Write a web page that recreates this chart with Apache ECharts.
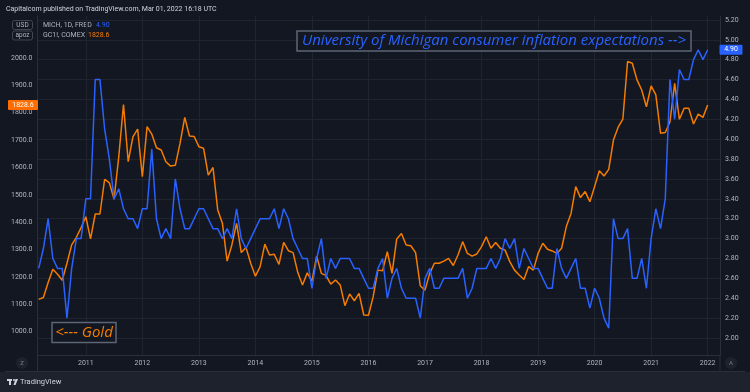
<!DOCTYPE html>
<html><head><meta charset="utf-8">
<script src="https://cdn.jsdelivr.net/npm/echarts@6/dist/echarts.min.js"></script>
<style>html,body{margin:0;padding:0;background:#131722;}#c{width:750px;height:392px;}</style>
</head><body><div id="c"></div>
<script>
// ---- data (monthly, first point = March 2010) ----
const startYear = 2010;
const startMonth = 3;
const yearLabels = ['2011','2012','2013','2014','2015','2016','2017','2018','2019','2020','2021','2022'];
const michTicks = ['2.00','2.20','2.40','2.60','2.80','3.00','3.20','3.40','3.60','3.80','4.00','4.20','4.40','4.60','4.80','5.00','5.20'];
const goldTicks = ['1000.0','1100.0','1200.0','1300.0','1400.0','1500.0','1600.0','1700.0','1800.0','1900.0','2000.0'];
// University of Michigan 1-yr inflation expectations (MICH, FRED), right scale
const michValues = [
  2.7,2.9,3.2,2.8,2.7,2.7,2.2,2.7,3.0,3.0,
  3.4,3.4,4.6,4.6,4.1,3.8,3.4,3.5,3.3,3.2,3.2,3.1,
  3.3,3.3,3.9,3.2,3.0,3.1,3.0,3.6,3.3,3.1,3.1,3.2,
  3.3,3.3,3.2,3.1,3.1,3.0,3.1,3.0,3.3,3.0,2.9,3.0,
  3.1,3.2,3.2,3.2,3.3,3.1,3.3,3.2,3.0,2.9,2.8,2.8,
  2.5,2.8,3.0,2.6,2.8,2.7,2.8,2.8,2.8,2.7,2.7,2.6,
  2.5,2.5,2.7,2.8,2.4,2.6,2.7,2.5,2.4,2.4,2.4,2.2,
  2.6,2.7,2.5,2.5,2.6,2.6,2.6,2.6,2.7,2.4,2.5,2.7,
  2.7,2.7,2.8,2.7,2.8,3.0,2.9,3.0,2.7,2.9,2.8,2.7,
  2.7,2.6,2.5,2.5,2.9,2.7,2.6,2.7,2.8,2.5,2.5,2.3,
  2.5,2.4,2.2,2.1,3.2,3.0,3.0,3.1,2.6,2.6,2.8,2.5,
  3.0,3.3,3.1,3.4,4.6,4.2,4.7,4.6,4.6,4.8,4.9,4.8,
  4.9
];
// Gold continuous futures (GC1!, COMEX), left scale
const goldValues = [
  1118,1125,1180,1228,1210,1188,1250,1317,1345,1380,
  1420,1339,1430,1430,1557,1544,1484,1640,1830,1621,1712,1740,
  1566,1749,1722,1672,1664,1621,1605,1608,1688,1783,1715,1713,
  1676,1670,1572,1600,1445,1396,1258,1317,1396,1289,1308,1250,
  1203,1238,1320,1280,1283,1246,1326,1296,1289,1216,1171,1215,
  1185,1276,1213,1205,1174,1189,1171,1095,1138,1113,1140,1061,
  1060,1128,1225,1223,1292,1213,1339,1359,1317,1314,1289,1167,
  1152,1213,1250,1250,1258,1268,1242,1280,1329,1286,1276,1284,
  1311,1347,1305,1326,1305,1298,1256,1225,1207,1191,1238,1225,
  1286,1323,1301,1295,1286,1305,1384,1432,1530,1490,1512,1475,
  1530,1588,1569,1593,1700,1747,1777,1987,1981,1920,1883,1822,
  1898,1865,1725,1728,1767,1907,1776,1816,1816,1759,1795,1783,
  1828.6
];

// month index measured from January of startYear
const monthIndex = michValues.map((_, i) => (startMonth - 1) + i);
const michData = michValues.map((v, i) => [monthIndex[i], v]);
const goldData = goldValues.map((v, i) => [monthIndex[i], v]);
const yearPos = yearLabels.map(y => (parseInt(y, 10) - startYear) * 12);
const michTickVals = michTicks.map(Number);
const goldTickVals = goldTicks.map(Number);
const michLast = michValues[michValues.length - 1];
const goldLast = goldValues[goldValues.length - 1];

const BLUE = '#2962ff', ORANGE = '#f57c00', TXT = '#b2b5be', GRID = '#20242f', BORDER = '#2a2e39';
const FONT = 'Roboto, "Noto Sans", sans-serif';
const NOTE_FONT = 'italic 15px "Open Sans", sans-serif';

const chart = echarts.init(document.getElementById('c'), null, {renderer: 'canvas'});
chart.setOption({
  backgroundColor: '#131722',
  animation: false,
  grid: {left: 37.5, right: 30, top: 16, bottom: 37, containLabel: false},
  xAxis: {
    type: 'value', min: 1.745, max: 146.62,
    axisLine: {show: true, lineStyle: {color: BORDER, width: 1}},
    axisTick: {show: false, customValues: yearPos},
    axisLabel: {customValues: yearPos, color: TXT, fontSize: 7, fontFamily: FONT, margin: 5,
      formatter: v => yearLabels[yearPos.indexOf(Math.round(v))] || ''},
    splitLine: {show: true, lineStyle: {color: GRID, width: 1}}
  },
  yAxis: [
    {
      type: 'value', position: 'left', min: 914.9, max: 2153.4,
      axisLine: {show: true, lineStyle: {color: BORDER}},
      axisTick: {show: false, customValues: goldTickVals},
      axisLabel: {customValues: goldTickVals, color: TXT, fontSize: 7, fontFamily: FONT, margin: 5,
        formatter: v => goldTicks[goldTickVals.indexOf(v)] || v.toFixed(1)},
      splitLine: {show: false}
    },
    {
      type: 'value', position: 'right', min: 1.829, max: 5.239,
      axisLine: {show: true, lineStyle: {color: BORDER}},
      axisTick: {show: false, customValues: michTickVals},
      axisLabel: {customValues: michTickVals, color: TXT, fontSize: 7, fontFamily: FONT, margin: 5,
        formatter: v => v.toFixed(2)},
      splitLine: {show: true, lineStyle: {color: GRID, width: 1}}
    }
  ],
  series: [
    {
      name: 'MICH', type: 'line', yAxisIndex: 1, data: michData, showSymbol: false,
      lineStyle: {color: BLUE, width: 1.5}, itemStyle: {color: BLUE}, z: 3
    },
    {
      name: 'GC1!', type: 'line', yAxisIndex: 0, data: goldData, showSymbol: false,
      lineStyle: {color: ORANGE, width: 1.5}, itemStyle: {color: ORANGE}, z: 2
    }
  ],
  graphic: [
    {type: 'rect', shape: {x: 0, y: 372, width: 750, height: 20}, style: {fill: '#1e222d'}, silent: true, z: 0},
    {type: 'line', shape: {x1: 37.5, y1: 355, x2: 37.5, y2: 371}, style: {stroke: BORDER, lineWidth: 1}},
    {type: 'line', shape: {x1: 720, y1: 355, x2: 720, y2: 371}, style: {stroke: BORDER, lineWidth: 1}},
    {type: 'line', shape: {x1: 5, y1: 371.5, x2: 745, y2: 371.5}, style: {stroke: BORDER, lineWidth: 1}},
    {type: 'text', x: 6, y: 5.5, style: {text: 'Capitalcom published on TradingView.com, Mar 01, 2022 16:18 UTC', fill: '#d1d4dc', font: '7px ' + FONT}},
    {type: 'rect', shape: {x: 12.5, y: 20.5, width: 20, height: 9, r: 2}, style: {fill: 'none', stroke: '#434651', lineWidth: 1}},
    {type: 'text', x: 22.5, y: 25, style: {text: 'USD', fill: TXT, font: '6.5px ' + FONT, align: 'center', verticalAlign: 'middle'}},
    {type: 'rect', shape: {x: 12.5, y: 31, width: 20, height: 9, r: 2}, style: {fill: 'none', stroke: '#434651', lineWidth: 1}},
    {type: 'text', x: 22.5, y: 35.5, style: {text: 'apoz', fill: TXT, font: '6.5px ' + FONT, align: 'center', verticalAlign: 'middle'}},
    {type: 'text', x: 43, y: 25, style: {text: 'MICH, 1D, FRED', fill: TXT, font: '7px ' + FONT, verticalAlign: 'middle'}},
    {type: 'text', x: 96, y: 25, style: {text: michLast.toFixed(2), fill: BLUE, font: '7px ' + FONT, verticalAlign: 'middle'}},
    {type: 'text', x: 43, y: 35, style: {text: 'GC1!, COMEX', fill: TXT, font: '7px ' + FONT, verticalAlign: 'middle'}},
    {type: 'text', x: 88, y: 35, style: {text: goldLast.toFixed(1), fill: ORANGE, font: '7px ' + FONT, verticalAlign: 'middle'}},
    {type: 'rect', shape: {x: 297, y: 31, width: 394, height: 20}, style: {fill: '#131722', stroke: '#5d6675', lineWidth: 1.5}, z: 30},
    {type: 'text', x: 494, y: 41, z: 31, style: {text: 'University of Michigan consumer inflation expectations -->', fill: BLUE, font: NOTE_FONT, align: 'center', verticalAlign: 'middle'}},
    {type: 'rect', shape: {x: 52, y: 322.5, width: 64, height: 20}, style: {fill: '#131722', stroke: '#5d6675', lineWidth: 1.5}, z: 30},
    {type: 'text', x: 84, y: 332.5, z: 31, style: {text: '<--- Gold', fill: ORANGE, font: NOTE_FONT, align: 'center', verticalAlign: 'middle'}},
    {type: 'circle', shape: {cx: 22, cy: 363, r: 6}, style: {fill: '#1e222d'}},
    {type: 'text', x: 22, y: 363, style: {text: 'Z', fill: '#787b86', font: '6px ' + FONT, align: 'center', verticalAlign: 'middle'}},
    {type: 'circle', shape: {cx: 731, cy: 363, r: 6}, style: {fill: '#1e222d'}},
    {type: 'text', x: 731, y: 363, style: {text: 'A', fill: '#787b86', font: '6px ' + FONT, align: 'center', verticalAlign: 'middle'}},
    {type: 'rect', shape: {x: 7, y: 379, width: 5, height: 2}, style: {fill: '#d1d4dc'}},
    {type: 'rect', shape: {x: 9, y: 379, width: 2, height: 6}, style: {fill: '#d1d4dc'}},
    {type: 'circle', shape: {cx: 14, cy: 380, r: 1}, style: {fill: '#d1d4dc'}},
    {type: 'polygon', shape: {points: [[15.5, 379], [18, 379], [15.5, 385], [13.5, 385]]}, style: {fill: '#d1d4dc'}},
    {type: 'text', x: 20, y: 382.5, style: {text: 'TradingView', fill: '#d1d4dc', font: '7.5px ' + FONT, verticalAlign: 'middle'}}
  ]
});

// last-value price tags placed on each series' own axis scale
const yBlue = chart.convertToPixel({yAxisIndex: 1}, michLast);
const yGold = chart.convertToPixel({yAxisIndex: 0}, goldLast);
const opt = chart.getOption();
const g = opt.graphic && opt.graphic[0] && opt.graphic[0].elements ? [] : [];
chart.setOption({
  graphic: [
    {id: 'tagBlueBg', type: 'rect', z: 50, shape: {x: 719.5, y: yBlue - 5, width: 23, height: 10, r: 1}, style: {fill: BLUE}},
    {id: 'tagBlueTx', type: 'text', z: 51, x: 731, y: yBlue, style: {text: michLast.toFixed(2), fill: '#fff', font: '7px ' + FONT, align: 'center', verticalAlign: 'middle'}},
    {id: 'tagGoldBg', type: 'rect', z: 50, shape: {x: 8, y: yGold - 5, width: 30, height: 10, r: 1}, style: {fill: '#ff6d00'}},
    {id: 'tagGoldTx', type: 'text', z: 51, x: 23, y: yGold, style: {text: goldLast.toFixed(1), fill: '#fff', font: '7px ' + FONT, align: 'center', verticalAlign: 'middle'}}
  ]
});
</script></body></html>
